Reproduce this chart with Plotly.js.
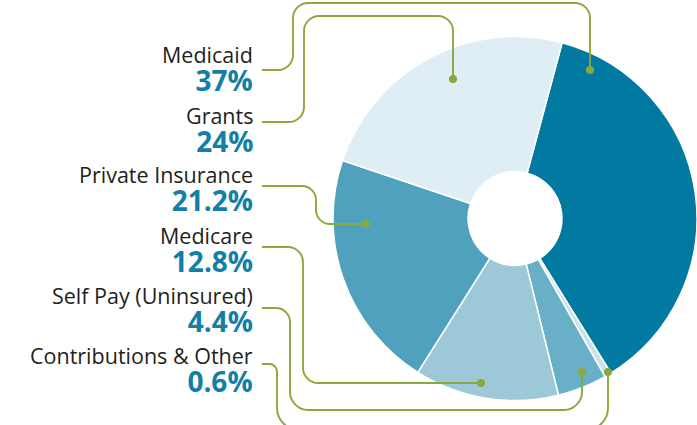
<!DOCTYPE html>
<html>
<head>
<meta charset="utf-8">
<script src="https://cdn.plot.ly/plotly-3.0.1.min.js"></script>
<style>html,body{margin:0;padding:0;background:#fff;}#chart{width:697px;height:425px;}</style>
</head>
<body>
<div id="chart"></div>
<script>
// Data (pie order, clockwise from the Medicaid start)
var categories = ["Medicaid", "Contributions & Other", "Self Pay (Uninsured)", "Medicare", "Private Insurance", "Grants"];
var shares = [37, 0.6, 4.4, 12.8, 21.2, 24];
var sliceColors = ["#0179a1", "#c9e3eb", "#68afc7", "#9dc8d8", "#4fa1be", "#dfeef4"];

// Label order on the left
var labelOrder = ["Medicaid", "Grants", "Private Insurance", "Medicare", "Self Pay (Uninsured)", "Contributions & Other"];
var percentLabels = ["37%", "24%", "21.2%", "12.8%", "4.4%", "0.6%"];

var W = 697, H = 425;
function px(x) { return x / W; }
function py(y) { return 1 - y / H; }

// Leader line routes (pixel coords), corner radius
var leaders = [
  {pts: [[262,70],[293,70],[293,3],[590,3],[590,70]], r: 15},
  {pts: [[262,122],[304,122],[304,16],[453,16],[453,79]], r: 15},
  {pts: [[262,186],[316,186],[316,224],[366,224]], r: 14},
  {pts: [[262,247],[303,247],[303,383],[481,383]], r: 15},
  {pts: [[262,308],[290,308],[290,410],[582,410],[582,372]], r: 18},
  {pts: [[262,364],[277,364],[277,430],[608,430],[608,372]], r: 22}
];

function roundedPath(pts, r) {
  var d = "M" + px(pts[0][0]) + "," + py(pts[0][1]);
  for (var i = 1; i < pts.length - 1; i++) {
    var p0 = pts[i-1], p1 = pts[i], p2 = pts[i+1];
    var l1 = Math.hypot(p1[0]-p0[0], p1[1]-p0[1]);
    var l2 = Math.hypot(p2[0]-p1[0], p2[1]-p1[1]);
    var rr = Math.min(r, l1/2, l2/2);
    var a = [p1[0] - (p1[0]-p0[0])/l1*rr, p1[1] - (p1[1]-p0[1])/l1*rr];
    var b = [p1[0] + (p2[0]-p1[0])/l2*rr, p1[1] + (p2[1]-p1[1])/l2*rr];
    d += " L" + px(a[0]) + "," + py(a[1]);
    d += " C" + px((a[0]+p1[0]*1.2)/2.2) + "," + py((a[1]+p1[1]*1.2)/2.2) + " " +
         px((b[0]+p1[0]*1.2)/2.2) + "," + py((b[1]+p1[1]*1.2)/2.2) + " " +
         px(b[0]) + "," + py(b[1]);
  }
  var last = pts[pts.length-1];
  d += " L" + px(last[0]) + "," + py(last[1]);
  return d;
}

var green = "#8aa83d";
var shapes = [];
leaders.forEach(function(ld) {
  var pts = ld.pts;
  shapes.push({type: "path", xref: "paper", yref: "paper", path: roundedPath(pts, ld.r),
    line: {color: green, width: 1.9}});
  var e = pts[pts.length-1], rd = 4;
  shapes.push({type: "circle", xref: "paper", yref: "paper",
    x0: px(e[0]-rd), x1: px(e[0]+rd), y0: py(e[1]+rd), y1: py(e[1]-rd),
    fillcolor: green, line: {width: 0}});
});

var annotations = [];
labelOrder.forEach(function(lab, i) {
  var yc = 70 + i * 60;
  annotations.push({xref: "paper", yref: "paper", x: px(255), y: py(yc), xanchor: "right", yanchor: "middle",
    align: "right",
    text: lab + "<br><span style='font-size:28px;color:#137fa5;font-weight:bold'>" + percentLabels[i] + "</span>",
    showarrow: false, font: {family: "Open Sans", size: 21.5, color: "#231f20"}});
});

var trace = {
  type: "pie",
  labels: categories,
  values: shares,
  sort: false,
  direction: "clockwise",
  rotation: 15,
  hole: 0.258,
  textinfo: "none",
  hoverinfo: "label+percent",
  marker: {colors: sliceColors, line: {color: "#ffffff", width: 1.5}},
  domain: {x: [333/W, 1], y: [1 - 400.5/H, 1 - 36.5/H]},
  showlegend: false
};

var layout = {
  width: W, height: H,
  margin: {l: 0, r: 0, t: 0, b: 0},
  paper_bgcolor: "#ffffff",
  showlegend: false,
  shapes: shapes,
  annotations: annotations
};

Plotly.newPlot("chart", [trace], layout, {displayModeBar: false, staticPlot: true});
</script>
</body>
</html>
